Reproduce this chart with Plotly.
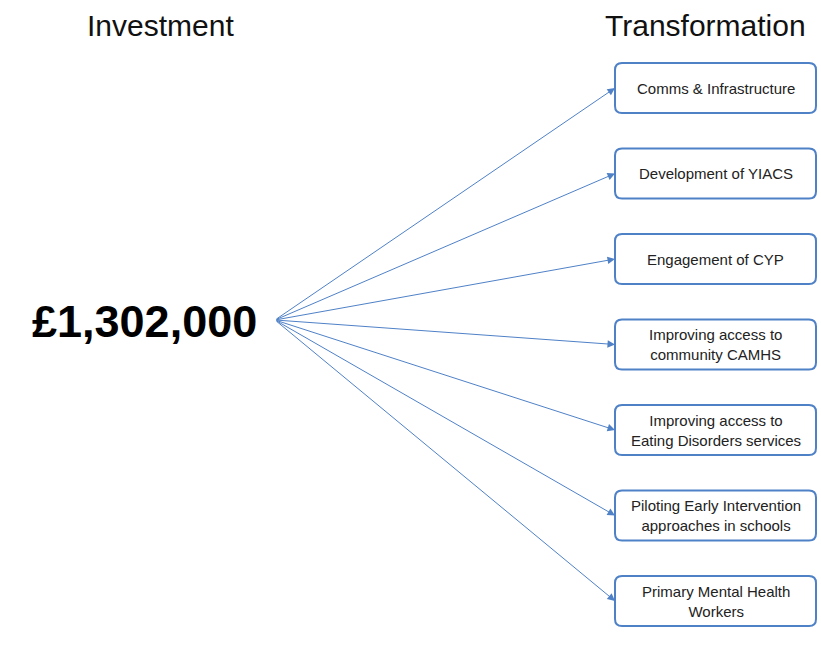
import plotly.graph_objects as go

investment = 1302000
streams = [
    "Comms & Infrastructure",
    "Development of YIACS",
    "Engagement of CYP",
    "Improving access to<br>community CAMHS",
    "Improving access to<br>Eating Disorders services",
    "Piloting Early Intervention<br>approaches in schools",
    "Primary Mental Health<br>Workers",
]

W, H = 821, 646
blue = "#4F81C7"
font = "Liberation Sans, Arial, sans-serif"

fig = go.Figure()

# box geometry (px)
bx0, bx1 = 615, 816
bh = 50
top0, step = 63, 85.5
origin = (275, 320)

def rounded(x0, y0, x1, y1, r=7):
    return (f"M {x0+r},{y0} L {x1-r},{y0} Q {x1},{y0} {x1},{y0+r} "
            f"L {x1},{y1-r} Q {x1},{y1} {x1-r},{y1} L {x0+r},{y1} "
            f"Q {x0},{y1} {x0},{y1-r} L {x0},{y0+r} Q {x0},{y0} {x0+r},{y0} Z")

for i, label in enumerate(streams):
    y0 = top0 + i * step
    y1 = y0 + bh
    yc = (y0 + y1) / 2
    fig.add_shape(type="path", path=rounded(bx0, y0, bx1, y1),
                  xref="x", yref="y", line=dict(color=blue, width=2),
                  fillcolor="white")
    fig.add_annotation(x=(bx0 + bx1) / 2, y=yc, text=label, showarrow=False,
                       xref="x", yref="y", font=dict(family=font, size=15, color="#222"))
    fig.add_annotation(x=bx0, y=yc, ax=origin[0], ay=origin[1],
                       xref="x", yref="y", axref="x", ayref="y",
                       text="", showarrow=True, arrowhead=2, arrowsize=1.5,
                       arrowwidth=1, arrowcolor=blue)

fig.add_annotation(x=160, y=25, text="Investment", showarrow=False,
                   xref="x", yref="y", font=dict(family=font, size=30, color="#111"))
fig.add_annotation(x=705, y=25, text="Transformation", showarrow=False,
                   xref="x", yref="y", font=dict(family=font, size=30, color="#111"))
fig.add_annotation(x=144, y=321, text=f"<b>£{investment:,}</b>", showarrow=False,
                   xref="x", yref="y", font=dict(family=font, size=45, color="#000"))

fig.update_xaxes(range=[0, W], visible=False, fixedrange=True)
fig.update_yaxes(range=[H, 0], visible=False, fixedrange=True)
fig.update_layout(width=W, height=H, margin=dict(l=0, r=0, t=0, b=0),
                  paper_bgcolor="white", plot_bgcolor="white", showlegend=False)

fig.write_html("out.html", config={"displayModeBar": False},
               post_script="document.body.style.margin='0';document.body.style.overflow='hidden';")
